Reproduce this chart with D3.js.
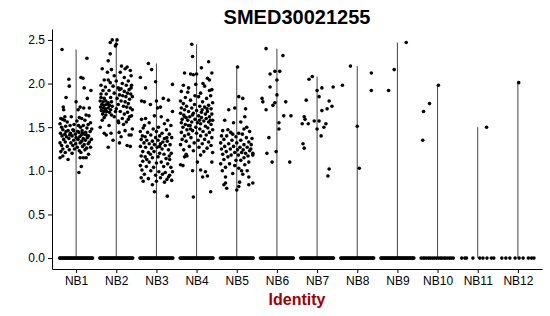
<!DOCTYPE html>
<html>
<head>
<meta charset="utf-8">
<script src="https://cdn.jsdelivr.net/npm/d3@7"></script>
<style>
  body { margin: 0; background: #fff; }
  .axis text { font-family: "Liberation Sans", Arial, sans-serif; fill: #000; }
  .axis path, .axis line { stroke: #000; }
</style>
</head>
<body>
<div id="container"></div>
<script>
/* CONSTANTS AND GLOBALS */
const width = 550,
  height = 316,
  margin = { top: 29, left: 52, bottom: 47, right: 8 };

/* DATA */
const categories = ["NB1", "NB2", "NB3", "NB4", "NB5", "NB6", "NB7", "NB8", "NB9", "NB10", "NB11", "NB12"];
const yTicks = [0, 0.5, 1, 1.5, 2, 2.5];

// non-zero cells: [jitter (fraction of band), expression]
const nb1Points = [[-0.35,2.39],[0.27,2.29],[0.12,2.07],[0.17,2.06],[-0.18,2.05],[-0.17,1.97],[0.2,1.95],[0.37,1.92],[-0.25,1.84],[0.0,1.79],[0.28,1.83],[-0.32,1.73],[-0.31,1.70],[0.1,1.73],[0.05,1.70],[0.19,1.72],[0.32,1.63],[0.25,1.64],[-0.38,1.60],[-0.34,1.59],[-0.29,1.58],[-0.12,1.62],[0.08,1.61],[0.14,1.60],[0.22,1.58],[0.36,1.55],[-0.4,1.54],[-0.22,1.56],[0.02,1.57],[0.3,1.53],[-0.36,1.50],[-0.26,1.51],[-0.15,1.52],[-0.05,1.53],[0.11,1.50],[0.18,1.52],[0.27,1.49],[0.39,1.48],[-0.33,1.47],[-0.2,1.46],[-0.08,1.47],[0.04,1.45],[0.15,1.46],[0.24,1.44],[0.35,1.45],[-0.39,1.43],[-0.28,1.42],[-0.14,1.43],[-0.02,1.42],[0.07,1.44],[0.13,1.41],[0.21,1.42],[0.31,1.40],[-0.35,1.40],[-0.24,1.39],[-0.1,1.40],[0.0,1.38],[0.09,1.39],[0.18,1.37],[0.28,1.38],[0.38,1.36],[-0.31,1.36],[-0.18,1.37],[-0.06,1.35],[0.05,1.36],[0.14,1.34],[0.23,1.35],[0.33,1.33],[-0.4,1.32],[-0.27,1.33],[-0.13,1.32],[-0.01,1.31],[0.1,1.32],[0.2,1.30],[0.3,1.31],[-0.36,1.29],[-0.22,1.28],[-0.08,1.29],[0.03,1.27],[0.16,1.28],[0.26,1.26],[0.36,1.27],[-0.33,1.25],[-0.17,1.24],[-0.04,1.25],[0.08,1.23],[0.22,1.24],[-0.38,1.22],[-0.27,1.21],[-0.1,1.20],[0.12,1.21],[0.31,1.19],[-0.33,1.17],[-0.4,1.15],[0.1,1.15],[0.18,1.15],[0.25,1.15],[-0.2,1.13],[0.13,1.05],[0.07,0.98],[-0.28,1.62],[0.33,1.72],[-0.06,1.46],[0.26,1.41],[-0.16,1.41],[0.06,1.52],[-0.25,1.45],[0.16,1.43]];
const nb2Points = [[-0.15,2.47],[-0.10,2.50],[0.02,2.50],[-0.02,2.43],[0.0,2.45],[-0.2,2.26],[-0.15,2.34],[-0.35,2.17],[-0.22,2.13],[-0.12,2.16],[0.1,2.13],[0.22,2.17],[0.27,2.19],[0.35,2.15],[0.37,2.09],[0.2,2.07],[-0.05,2.09],[-0.3,2.04],[-0.2,2.04],[-0.15,2.01],[0.3,2.03],[0.15,2.0],[0.25,1.98],[0.38,1.98],[-0.38,1.98],[-0.27,1.96],[-0.08,1.97],[0.05,1.95],[0.12,1.94],[0.32,1.93],[-0.33,1.92],[-0.18,1.92],[0.2,1.91],[0.28,1.89],[0.36,1.88],[-0.25,1.88],[-0.05,1.89],[0.08,1.87],[0.16,1.86],[0.24,1.85],[0.4,1.85],[-0.38,1.84],[-0.3,1.83],[-0.14,1.84],[0.02,1.83],[0.33,1.82],[-0.4,1.80],[-0.33,1.79],[-0.26,1.80],[-0.2,1.78],[-0.12,1.79],[0.12,1.80],[0.22,1.79],[0.3,1.77],[-0.36,1.76],[-0.3,1.75],[-0.24,1.76],[-0.17,1.75],[-0.1,1.74],[0.05,1.76],[0.18,1.74],[0.26,1.73],[-0.39,1.73],[-0.33,1.72],[-0.27,1.71],[-0.2,1.72],[-0.14,1.70],[0.0,1.71],[0.35,1.72],[-0.37,1.69],[-0.31,1.68],[-0.24,1.68],[-0.17,1.67],[0.1,1.68],[0.28,1.67],[-0.34,1.65],[-0.26,1.64],[-0.12,1.64],[0.2,1.65],[0.38,1.63],[-0.3,1.61],[-0.05,1.62],[0.15,1.60],[0.3,1.59],[-0.35,1.58],[0.05,1.57],[0.25,1.56],[0.06,1.55],[0.18,1.53],[-0.4,1.50],[-0.3,1.43],[-0.25,1.41],[-0.13,1.43],[0.07,1.44],[0.32,1.41],[0.37,1.41],[-0.2,1.27],[0.08,1.32],[0.27,1.29],[0.35,1.28],[0.4,1.48],[-0.18,1.52],[0.12,1.39],[-0.08,1.35],[0.22,1.46],[0.33,1.62],[0.4,1.70],[0.37,1.95],[-0.02,1.68],[0.08,1.93],[0.0,2.03],[-0.38,1.88],[0.13,2.2]];
const nb3Points = [[-0.2,2.23],[-0.12,2.16],[-0.4,2.07],[-0.27,1.95],[-0.02,2.02],[0.4,1.99],[-0.37,1.80],[-0.3,1.79],[-0.15,1.76],[0.0,1.80],[0.17,1.83],[0.3,1.81],[0.03,1.72],[0.1,1.73],[0.4,1.68],[-0.37,1.59],[-0.27,1.60],[-0.05,1.63],[0.12,1.62],[0.28,1.58],[-0.18,1.55],[0.2,1.54],[0.36,1.52],[-0.33,1.49],[-0.08,1.48],[0.05,1.50],[0.25,1.47],[-0.4,1.45],[-0.22,1.44],[0.0,1.45],[0.14,1.43],[0.32,1.42],[-0.35,1.40],[-0.28,1.39],[-0.14,1.41],[-0.02,1.38],[0.08,1.40],[0.2,1.37],[0.38,1.38],[-0.38,1.36],[-0.24,1.35],[-0.1,1.34],[0.04,1.35],[0.16,1.33],[0.27,1.34],[-0.31,1.32],[-0.18,1.31],[-0.05,1.30],[0.1,1.31],[0.22,1.29],[0.34,1.30],[-0.4,1.28],[-0.27,1.27],[-0.12,1.26],[0.02,1.27],[0.14,1.25],[0.3,1.24],[-0.34,1.22],[-0.2,1.21],[-0.06,1.22],[0.08,1.20],[0.19,1.19],[0.37,1.20],[-0.38,1.17],[-0.28,1.16],[-0.1,1.15],[0.04,1.16],[0.24,1.14],[0.33,1.13],[-0.34,1.11],[-0.18,1.10],[0.0,1.09],[0.12,1.10],[0.28,1.08],[-0.4,1.06],[-0.25,1.05],[-0.07,1.04],[0.18,1.05],[0.36,1.04],[-0.36,1.01],[-0.14,1.00],[0.06,0.99],[0.22,0.98],[0.4,0.99],[-0.3,0.96],[-0.02,0.95],[0.15,0.96],[0.3,0.93],[-0.38,0.92],[-0.2,0.91],[0.1,0.92],[0.26,0.90],[0.38,0.89],[-0.33,0.88],[0.0,0.88],[0.2,0.87],[-0.1,0.84],[-0.05,0.76],[0.27,0.71],[0.33,0.95],[-0.24,1.13],[0.26,1.38],[-0.3,1.52],[0.08,1.28],[-0.15,1.19],[0.32,1.17]];
const nb4Points = [[-0.12,2.45],[-0.1,2.31],[0.3,2.25],[0.12,2.18],[0.38,2.12],[-0.3,2.12],[0.0,2.11],[-0.15,2.11],[-0.08,2.10],[0.27,2.06],[0.32,2.04],[-0.33,1.98],[-0.02,1.99],[0.2,1.97],[0.38,1.93],[-0.38,1.91],[-0.22,1.90],[0.1,1.89],[0.35,1.86],[-0.28,1.84],[0.05,1.85],[0.25,1.83],[-0.4,1.80],[-0.15,1.81],[0.15,1.79],[0.4,1.78],[-0.33,1.77],[-0.05,1.76],[0.3,1.75],[-0.25,1.74],[0.08,1.74],[0.2,1.73],[-0.38,1.72],[-0.12,1.72],[0.36,1.71],[-0.3,1.70],[0.0,1.69],[0.14,1.70],[0.27,1.68],[-0.2,1.68],[-0.4,1.66],[-0.08,1.66],[0.22,1.65],[0.38,1.65],[-0.32,1.64],[0.05,1.63],[0.32,1.62],[-0.17,1.62],[-0.26,1.61],[0.12,1.61],[0.24,1.60],[-0.36,1.59],[-0.04,1.59],[0.4,1.58],[-0.22,1.58],[0.18,1.57],[-0.12,1.56],[0.3,1.56],[-0.38,1.55],[0.02,1.55],[0.1,1.54],[-0.28,1.53],[0.36,1.53],[-0.16,1.52],[0.22,1.51],[-0.34,1.50],[-0.02,1.50],[0.28,1.49],[0.08,1.48],[-0.24,1.47],[0.4,1.47],[-0.1,1.46],[0.16,1.45],[-0.38,1.44],[0.32,1.44],[0.0,1.43],[-0.2,1.42],[0.24,1.41],[-0.3,1.40],[0.1,1.40],[0.38,1.38],[-0.14,1.38],[-0.36,1.36],[0.2,1.36],[0.04,1.35],[-0.26,1.34],[0.3,1.33],[-0.06,1.32],[0.14,1.31],[-0.4,1.30],[0.36,1.29],[-0.18,1.28],[0.06,1.27],[0.26,1.26],[-0.32,1.24],[-0.08,1.23],[0.18,1.22],[0.4,1.21],[-0.26,1.19],[0.1,1.18],[-0.3,1.16],[-0.24,1.17],[0.02,1.10],[0.38,1.10],[-0.4,1.07],[-0.34,1.06],[0.22,0.99],[0.15,0.93],[0.27,0.94],[-0.1,1.00],[0.1,1.01],[-0.08,0.70],[0.35,0.76],[-0.04,1.86],[0.32,1.92],[-0.2,1.95],[0.16,2.0],[-0.3,1.62],[0.26,1.71],[-0.1,1.64],[0.12,1.67],[-0.2,1.52],[0.34,1.58],[0.07,1.58],[-0.15,1.48]];
const nb5Points = [[0.02,2.19],[0.05,1.85],[0.15,1.83],[-0.2,1.70],[-0.05,1.72],[0.22,1.71],[-0.35,1.46],[-0.22,1.47],[-0.08,1.55],[0.1,1.56],[0.2,1.62],[0.25,1.50],[-0.3,1.58],[0.32,1.45],[-0.15,1.44],[0.05,1.43],[0.14,1.42],[-0.38,1.40],[-0.25,1.40],[-0.02,1.39],[0.24,1.38],[0.38,1.37],[-0.32,1.36],[-0.12,1.35],[0.1,1.35],[0.3,1.33],[-0.4,1.32],[-0.2,1.31],[0.0,1.32],[0.18,1.30],[0.36,1.30],[-0.3,1.28],[-0.08,1.28],[0.08,1.27],[0.26,1.27],[-0.38,1.25],[-0.16,1.25],[0.02,1.24],[0.16,1.24],[0.32,1.23],[-0.26,1.22],[-0.05,1.21],[0.12,1.21],[0.22,1.20],[0.4,1.20],[-0.35,1.19],[-0.14,1.18],[0.04,1.18],[0.28,1.17],[-0.22,1.16],[0.18,1.15],[0.4,1.18],[-0.32,1.13],[-0.02,1.12],[0.1,1.12],[0.3,1.10],[-0.4,1.08],[-0.18,1.08],[0.2,1.07],[-0.28,1.04],[0.05,1.03],[-0.36,1.00],[0.26,1.00],[-0.1,0.97],[0.15,0.96],[-0.28,0.93],[-0.28,0.86],[-0.32,0.84],[0.07,0.87],[0.05,0.82],[0.3,0.93],[0.3,0.84],[0.4,0.86],[-0.25,0.80],[0.0,0.78],[0.12,1.0],[-0.05,1.06],[0.35,1.25],[-0.1,1.42],[0.18,1.48]];
const nb6Points = [[-0.27,2.40],[0.15,2.32],[-0.17,2.11],[-0.05,2.14],[0.07,2.14],[0.0,2.04],[-0.17,1.96],[-0.37,1.83],[-0.35,1.79],[-0.27,1.70],[-0.1,1.75],[-0.05,1.78],[0.0,1.87],[0.22,1.79],[0.17,1.63],[0.35,1.63],[0.05,1.55],[0.05,1.48],[-0.2,1.38],[-0.25,1.20],[-0.02,1.22],[-0.12,1.10],[0.32,1.10]];
const nb7Points = [[-0.2,2.05],[-0.12,2.08],[0.0,1.92],[0.12,1.95],[0.4,1.96],[-0.27,1.81],[0.05,1.85],[0.3,1.80],[0.37,1.74],[0.12,1.69],[0.25,1.71],[-0.32,1.62],[-0.3,1.59],[-0.37,1.54],[-0.22,1.54],[-0.07,1.57],[0.05,1.57],[0.17,1.50],[0.22,1.54],[0.0,1.48],[0.1,1.40],[-0.35,1.31],[-0.32,1.26],[0.3,1.02],[0.27,0.94]];
const nb8Points = [[-0.17,2.20],[0.35,2.12],[0.35,1.92],[0.0,1.51],[0.05,1.03],[-0.37,1.98]];
const nb9Points = [[0.22,2.47],[-0.08,2.16],[-0.22,1.92]];
const nb10Points = [[0.02,1.98],[-0.2,1.77],[-0.35,1.68],[-0.37,1.35]];
const nb11Points = [[0.22,1.50]];
const nb12Points = [[0.02,2.01]];

// jitter of the cells with zero expression
const zeroDense = [-0.41,-0.385,-0.36,-0.335,-0.31,-0.285,-0.26,-0.235,-0.21,-0.185,-0.16,-0.135,-0.11,-0.085,-0.06,-0.035,-0.01,0.015,0.04,0.065,0.09,0.115,0.14,0.165,0.19,0.215,0.24,0.265,0.29,0.315,0.34,0.365,0.39,0.41];
const zeroNB10 = [-0.41,-0.36,-0.32,-0.27,-0.22,-0.18,-0.13,-0.08,-0.03,0.02,0.07,0.11,0.16,0.2,0.25,0.3,0.34,0.39];
const zeroNB11 = [-0.40,-0.32,-0.28,-0.12,0.05,0.13,0.23,0.34,0.40];
const zeroNB12 = [-0.40,-0.30,-0.20,-0.07,0.03,0.13,0.26,0.34,0.40];

const nonZero = [nb1Points, nb2Points, nb3Points, nb4Points, nb5Points, nb6Points, nb7Points, nb8Points, nb9Points, nb10Points, nb11Points, nb12Points];
const zeros = [zeroDense, zeroDense, zeroDense, zeroDense, zeroDense, zeroDense, zeroDense, zeroDense, zeroDense, zeroNB10, zeroNB11, zeroNB12];

// flatten into one list of cells
const cells = [];
categories.forEach((cat, i) => {
  zeros[i].forEach(j => cells.push({ cat: cat, jitter: j, value: 0 }));
  nonZero[i].forEach(p => cells.push({ cat: cat, jitter: p[0], value: p[1] }));
});

// SCALES
const xScale = d3.scalePoint()
  .domain(categories)
  .range([margin.left, width - margin.right])
  .padding(0.6);

const yScale = d3.scaleLinear()
  .domain([-0.125, 2.625]) // ggplot 5% expansion
  .range([height - margin.bottom, margin.top]);

// CREATE SVG ELEMENT
const svg = d3.select("#container")
  .append("svg")
  .attr("width", width)
  .attr("height", height);

// VIOLINS (collapsed to a line from 0 to max)
svg.selectAll(".violin")
  .data(categories)
  .join("line")
  .attr("class", "violin")
  .attr("x1", d => xScale(d))
  .attr("x2", d => xScale(d))
  .attr("y1", yScale(0))
  .attr("y2", (d, i) => yScale(d3.max(nonZero[i], p => p[1])))
  .attr("stroke", "#444")
  .attr("stroke-width", 1);

// JITTERED POINTS
svg.selectAll(".dot")
  .data(cells)
  .join("circle")
  .attr("class", "dot")
  .attr("cx", d => xScale(d.cat) + d.jitter * xScale.step())
  .attr("cy", d => yScale(d.value))
  .attr("r", 1.8)
  .attr("fill", "#000");

// AXES
svg.append("g")
  .attr("class", "axis")
  .attr("transform", `translate(0,${height - margin.bottom})`)
  .call(d3.axisBottom(xScale).tickSizeInner(4).tickSizeOuter(0).tickPadding(3))
  .style("font-size", "12px");

svg.append("g")
  .attr("class", "axis")
  .attr("transform", `translate(${margin.left},0)`)
  .call(d3.axisLeft(yScale).tickValues(yTicks).tickFormat(d3.format(".1f")).tickSizeInner(4).tickSizeOuter(0).tickPadding(3))
  .style("font-size", "12px");

svg.selectAll(".axis text").attr("font-family", null);

// TITLE
svg.append("text")
  .attr("x", (margin.left + width - margin.right) / 2)
  .attr("y", 24)
  .attr("text-anchor", "middle")
  .style("font-family", "'Liberation Sans', Arial, sans-serif")
  .style("font-size", "20px")
  .style("font-weight", "bold")
  .text("SMED30021255");

// X LABEL
svg.append("text")
  .attr("x", (margin.left + width - margin.right) / 2)
  .attr("y", 305)
  .attr("text-anchor", "middle")
  .style("font-family", "'Liberation Sans', Arial, sans-serif")
  .style("font-size", "16px")
  .style("font-weight", "bold")
  .attr("fill", "#a00000")
  .text("Identity");
</script>
</body>
</html>
